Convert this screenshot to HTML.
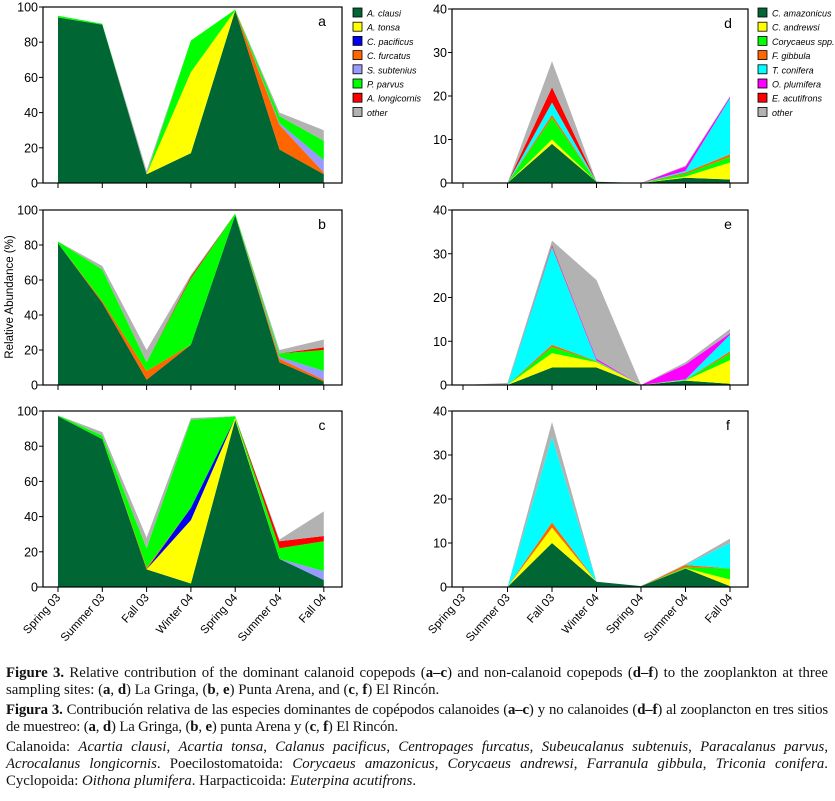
<!DOCTYPE html>
<html><head><meta charset="utf-8"><style>
body{margin:0;background:#fff;width:835px;height:801px;overflow:hidden;position:relative;font-family:"Liberation Sans",sans-serif}
#cap{position:absolute;left:6px;top:665px;width:822px;font-family:"Liberation Serif",serif;font-size:14.8px;line-height:17px;text-align:justify;color:#111;letter-spacing:0px}
#cap p{margin:0 0 3px 0}
</style></head><body>
<svg id="fig" width="835" height="660" style="position:absolute;left:0;top:0" font-family="Liberation Sans, sans-serif"></svg>
<div id="cap">
<p><b>Figure 3.</b> Relative contribution of the dominant calanoid copepods (<b>a–c</b>) and non-calanoid copepods (<b>d–f</b>) to the zooplankton at three sampling sites: (<b>a</b>, <b>d</b>) La Gringa, (<b>b</b>, <b>e</b>) Punta Arena, and (<b>c</b>, <b>f</b>) El Rincón.</p>
<p style="letter-spacing:-0.15px"><b>Figura 3.</b> Contribución relativa de las especies dominantes de copépodos calanoides (<b>a–c</b>) y no calanoides (<b>d–f</b>) al zooplancton en tres sitios de muestreo: (<b>a</b>, <b>d</b>) La Gringa, (<b>b</b>, <b>e</b>) punta Arena y (<b>c</b>, <b>f</b>) El Rincón.</p>
<p>Calanoida: <i>Acartia clausi</i>, <i>Acartia tonsa</i>, <i>Calanus pacificus</i>, <i>Centropages furcatus</i>, <i>Subeucalanus subtenuis</i>, <i>Paracalanus parvus</i>, <i>Acrocalanus longicornis</i>. Poecilostomatoida: <i>Corycaeus amazonicus</i>, <i>Corycaeus andrewsi</i>, <i>Farranula gibbula</i>, <i>Triconia conifera</i>. Cyclopoida: <i>Oithona plumifera</i>. Harpacticoida: <i>Euterpina acutifrons</i>.</p>
</div>
<script>
const categories=["Spring 03","Summer 03","Fall 03","Winter 04","Spring 04","Summer 04","Fall 04"];
const calSeries=["A. clausi","A. tonsa","C. pacificus","C. furcatus","S. subtenius","P. parvus","A. longicornis","other"];
const calColors=["#006633","#ffff00","#0000ee","#ff6600","#9999ff","#00ff00","#ff0000","#b2b2b2"];
const nonSeries=["C. amazonicus","C. andrewsi","Corycaeus spp.","F. gibbula","T. conifera","O. plumifera","E. acutifrons","other"];
const nonColors=["#006633","#ffff00","#00ff00","#ff6600","#00ffff","#ff00ff","#ff0000","#b2b2b2"];
const leftTicks=[0,20,40,60,80,100];
const rightTicks=[0,10,20,30,40];
const panelA=[[94,90,5,17,98,19,5],[0,0,0,46,0,0,0],[0,0,0,0,0,0,0],[0,0,0,0,0,14,1],[0,0,0,0,0,1,7],[1,0.5,0,18,0.5,4,11],[0,0,0,0,0,0,0],[0,0,2,0,0,2,6]];
const panelB=[[81,47,3,23,97,13,2],[0,0,0,0,0,0,0],[0,0,0,0,0,0,0],[0,1,5,0,0,2,1],[0,0,0,0,0,1,5],[1,18,5,38,1,2,12],[0,0,0,1,0,0,1.5],[0,2,7,1,0,2,4.5]];
const panelC=[[97,84,10,2,95,16,4],[0,0,0,36,1,0,0],[0,0,0,7,0,0,0],[0,0,1,0,0,0,0],[0,0,0,0,0,0,5],[0.5,2,11,50,1,6,17],[0,0,0,0,0,4,3],[0,2,6,1,0,1,14]];
const panelD=[[0,0,9,0.3,0,1.2,0.8],[0,0,1,0,0,0.3,3.9],[0,0,5,0,0,0.6,1.3],[0,0,0.7,0,0,0.3,0.6],[0,0,2.8,0,0,0.4,12.9],[0,0,0,0,0,1,0.3],[0,0,3.5,0,0,0,0],[0,0,6,0,0,0.2,0.2]];
const panelE=[[0,0,4,4,0,1,0.3],[0,0,3.3,1.2,0,0.1,5.4],[0,0,1.4,0.2,0,0.1,1.5],[0,0,0.5,0.1,0,0,0.5],[0,0,22.3,0.1,0,0.1,3.8],[0,0,0.2,0.4,0,3.4,0.3],[0,0,0.3,0,0,0,0],[0,0.5,1,18,0,0.5,1]];
const panelF=[[0,0,10,1.2,0.2,4.2,0.2],[0,0,3.5,0,0,0.1,1.5],[0,0,0,0,0,0.2,2.5],[0,0,1.2,0,0,0.5,0],[0,0,19.3,0,0,0,5.8],[0,0,0,0,0,0,0],[0,0,0,0,0,0,0],[0,0,3.5,0,0,0.2,1]];

const NS="http://www.w3.org/2000/svg";
const svg=document.getElementById('fig');
function mk(t,a,p){const e=document.createElementNS(NS,t);for(const k in a)e.setAttribute(k,a[k]);(p||svg).appendChild(e);return e;}

function panel(cfg){
  const g=mk('g',{});
  
  
  const x=i=>cfg.x0+i*cfg.dx;
  const y=v=>cfg.bot-(v/cfg.max)*(cfg.bot-cfg.top);
  const n=categories.length;
  let base=new Array(n).fill(0);
  cfg.data.forEach((row,s)=>{
    const topv=base.map((b,i)=>b+row[i]);
    let pts=[];
    for(let i=0;i<n;i++)pts.push(x(i)+','+y(topv[i]));
    for(let i=n-1;i>=0;i--)pts.push(x(i)+','+y(base[i]));
    const p=mk('polygon',{points:pts.join(' '),fill:cfg.colors[s],stroke:'none'},g);
    
    
    base=topv;
  });
  mk('rect',{x:cfg.left,y:cfg.top,width:cfg.right-cfg.left,height:cfg.bot-cfg.top,fill:'none',stroke:'#000','stroke-width':1.2},g);
  mk('line',{x1:cfg.left-6,y1:cfg.bot,x2:cfg.left,y2:cfg.bot,stroke:'#000'},g);
  cfg.ticks.forEach(t=>{
    mk('line',{x1:cfg.left-4,x2:cfg.left,y1:y(t),y2:y(t),stroke:'#000'},g);
    const tx=mk('text',{x:cfg.left-5,y:y(t)+4.5,'text-anchor':'end','font-size':12.5,fill:'#000'},g);
    tx.textContent=t;
    
    
  });
  for(let i=0;i<n;i++){
    mk('line',{x1:x(i),x2:x(i),y1:cfg.bot,y2:cfg.bot+5,stroke:'#000'},g);
    if(cfg.labels){
      const tx=mk('text',{x:x(i)+3,y:cfg.bot+11,'text-anchor':'end','font-size':11.5,fill:'#000',transform:`rotate(-48 ${x(i)+3} ${cfg.bot+11})`},g);
      tx.textContent=categories[i];
      
      
    }
  }
  const lt=mk('text',{x:cfg.right-20,y:cfg.top+19,'text-anchor':'middle','font-size':14,fill:'#000'},g);
  lt.textContent=cfg.letter;
  
  
}
function legend(x0,y0,names,colors,id){
  const g=mk('g',{});
  
  
  names.forEach((nm,i)=>{
    const yy=y0+i*14.2;
    mk('rect',{x:x0,y:yy-5,width:9,height:9,fill:colors[i],stroke:'#000','stroke-width':0.8},g);
    const t=mk('text',{x:x0+14,y:yy+3.5,'font-size':9,'font-style':'italic',fill:'#000'},g);
    t.textContent=nm;
    
    
  });
}
const L={left:43,right:342,x0:58,dx:44.3,max:100,ticks:leftTicks,colors:calColors,names:calSeries};
const R={left:452,right:748,x0:463,dx:44.5,max:40,ticks:rightTicks,colors:nonColors,names:nonSeries};
panel(Object.assign({},L,{top:7,bot:183,data:panelA,letter:'a'}));
panel(Object.assign({},L,{top:210,bot:385,data:panelB,letter:'b'}));
panel(Object.assign({},L,{top:411,bot:587,data:panelC,letter:'c',labels:true}));
panel(Object.assign({},R,{top:9,bot:183,data:panelD,letter:'d'}));
panel(Object.assign({},R,{top:210,bot:385,data:panelE,letter:'e'}));
panel(Object.assign({},R,{top:411,bot:587,data:panelF,letter:'f',labels:true}));
legend(353,13,calSeries,calColors,'legend-calanoid');
legend(758,13,nonSeries,nonColors,'legend-non-calanoid');
const yl=mk('text',{x:13,y:297,'text-anchor':'middle','font-size':11.5,fill:'#000',transform:'rotate(-90 13 297)'});
yl.textContent='Relative Abundance (%)';


</script>
</body></html>
